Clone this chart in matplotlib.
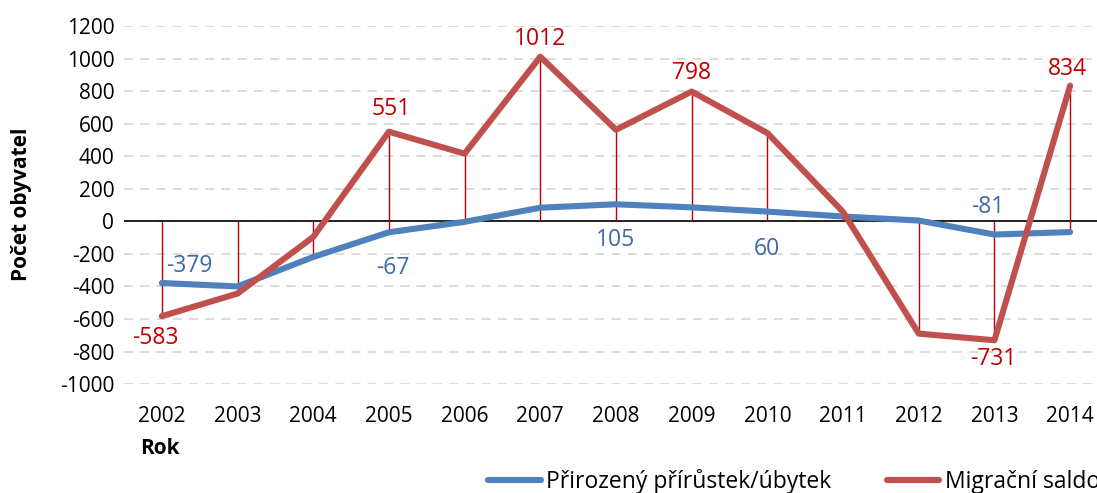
import numpy as np
import matplotlib
matplotlib.use("Agg")
import matplotlib.pyplot as plt

plt.rcParams['font.family'] = ['Open Sans', 'DejaVu Sans']
plt.rcParams['axes.unicode_minus'] = False

years = [str(y) for y in range(2002, 2015)]
prirustek = [-379, -400, -219, -67, -3, 84, 105, 86, 60, 30, 5, -81, -66]
migrace = [-583, -444, -96, 551, 416, 1012, 563, 798, 543, 58, -690, -731, 834]

# labelled points: index -> label offset in pixels (dx, dy)
blue_lab = {0: (28, 17), 3: (4, -36), 6: (0, -36), 8: (0, -37), 11: (-7, 28)}
red_lab = {0: (-6, -22), 3: (2, 23), 5: (0, 18), 7: (0, 19), 11: (-1, -19), 12: (-3, 17)}

fig = plt.figure(figsize=(10.97, 4.93), dpi=100)
ax = fig.add_axes([0.113, 0.221, 0.897, 0.726])

x = np.arange(len(years))
b = np.array(prirustek)
r = np.array(migrace)

# high-low lines (including the zero baseline)
hi = np.maximum(np.maximum(b, r), 0)
lo = np.minimum(np.minimum(b, r), 0)
ax.vlines(x, lo, hi, color='#c00000', lw=1, zorder=2)

ax.axhline(0, color='black', lw=1.2, zorder=1)
ax.plot(x, b, color='#4f81bd', lw=4.4, solid_capstyle='round', zorder=3,
        label='Přirozený přírůstek/úbytek')
ax.plot(x, r, color='#c0504d', lw=4.4, solid_capstyle='round', zorder=4,
        label='Migrační saldo')

px = 0.72  # pixels -> points at dpi 100
for i, (dx, dy) in blue_lab.items():
    ax.annotate(str(b[i]), (x[i], b[i]), xytext=(dx * px, dy * px), textcoords='offset points',
                ha='center', va='center', color='#3e6aa8', fontsize=16.5)
for i, (dx, dy) in red_lab.items():
    ax.annotate(str(r[i]), (x[i], r[i]), xytext=(dx * px, dy * px), textcoords='offset points',
                ha='center', va='center', color='#c00000', fontsize=16.5)

ax.set_ylim(-1000, 1200)
ax.set_yticks(range(-1000, 1201, 200))
ax.set_xlim(-0.5, 12.5)
ax.set_xticks(x)
ax.set_xticklabels(years)
ax.tick_params(axis='both', length=0, labelsize=15)
ax.tick_params(axis='x', pad=16)
ax.tick_params(axis='y', pad=7)
ax.grid(axis='y', color='#d9d9d9', lw=1.3, ls=(0, (5, 4)))
ax.set_axisbelow(True)
for s in ax.spines.values():
    s.set_visible(False)

fig.text(0.02, 0.585, 'Počet obyvatel', rotation=90, ha='center', va='center',
         fontsize=15, fontweight='bold')
fig.text(0.146, 0.091, 'Rok', ha='center', va='center', fontsize=15, fontweight='bold')

fig.legend(loc='center left', bbox_to_anchor=(488 / 1097, 0.024), ncol=2, frameon=False,
           fontsize=16.5, handlelength=2.3, handletextpad=0.25, columnspacing=2.4,
           borderpad=0, borderaxespad=0)

fig.savefig('out.png', dpi=100)
